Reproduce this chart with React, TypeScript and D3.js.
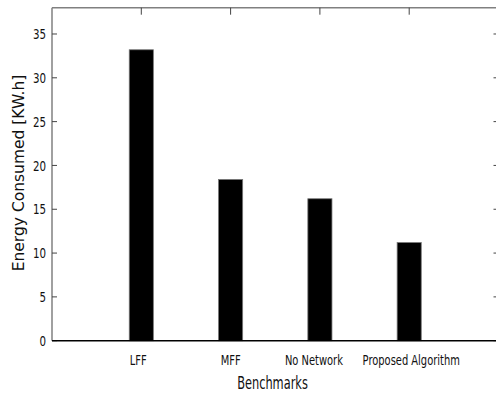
import React from "react";
import * as d3 from "d3";

const categories = ["LFF", "MFF", "No Network", "Proposed Algorithm"];
const energyValues = [33.2, 18.4, 16.2, 11.2];
const yTickValues = [0, 5, 10, 15, 20, 25, 30, 35];

// small horizontal nudges of the category labels, as in the reference
const labelNudge = [-3, 0, -6, 2];

const W = 496;
const H = 395;
const baseFont = "'DejaVu Sans', Verdana, sans-serif";

function NText({
  x,
  y,
  size,
  anchor,
  squeeze = 0.71,
  children,
}: {
  x: number;
  y: number;
  size: number;
  anchor: string;
  squeeze?: number;
  children: React.ReactNode;
}) {
  return (
    <text
      transform={`translate(${x},${y}) scale(${squeeze},1)`}
      textAnchor={anchor}
      fontFamily={baseFont}
      fontSize={size}
      fill="#111"
    >
      {children}
    </text>
  );
}

export default function App() {
  const x = d3.scaleLinear().domain([0, categories.length + 1]).range([52, 498.5]);
  const y = d3.scaleLinear().domain([0, 38]).range([340.7, 7.7]);
  const half = 0.135;
  const gray = "#808080";
  const left = x(0);
  const right = x(categories.length + 1);
  const top = y(38);
  const bottom = y(0);

  return (
    <svg
      width={W}
      height={H}
      style={{ position: "absolute", left: 0, top: 0, display: "block", background: "#fff" }}
    >
      {/* frame */}
      <line x1={left} x2={right} y1={top} y2={top} stroke={gray} strokeWidth={1.5} />
      <line x1={left} x2={left} y1={top} y2={bottom} stroke={gray} strokeWidth={1.5} />
      <line x1={right} x2={right} y1={top} y2={bottom} stroke={gray} strokeWidth={1.5} />

      {/* y ticks */}
      {yTickValues.map((t) => (
        <g key={"yt" + t}>
          <line x1={left} x2={left + 5} y1={y(t)} y2={y(t)} stroke="#444" strokeWidth={1} />
          <line x1={right - 5} x2={right} y1={y(t)} y2={y(t)} stroke="#444" strokeWidth={1} />
          <NText x={left - 6} y={y(t) + 5.2} size={14.5} anchor="end" squeeze={0.71}>
            {t}
          </NText>
        </g>
      ))}

      {/* top ticks */}
      {categories.map((c, i) => (
        <line
          key={"tt" + c}
          x1={x(i + 1)}
          x2={x(i + 1)}
          y1={top}
          y2={top + 7}
          stroke="#444"
          strokeWidth={1}
        />
      ))}

      {/* bars */}
      {categories.map((c, i) => (
        <rect
          key={"b" + c}
          x={x(i + 1 - half)}
          y={y(energyValues[i])}
          width={x(i + 1 + half) - x(i + 1 - half)}
          height={y(0) - y(energyValues[i])}
          fill="#000"
          stroke="#777"
          strokeWidth={0.8}
        />
      ))}

      {/* bottom axis */}
      <line x1={left} x2={right} y1={bottom} y2={bottom} stroke="#000" strokeWidth={1.5} />

      {/* category labels */}
      {categories.map((c, i) => (
        <NText
          key={"cl" + c}
          x={x(i + 1) + labelNudge[i]}
          y={364.5}
          size={14.8}
          anchor="middle"
          squeeze={0.67}
        >
          {c}
        </NText>
      ))}

      {/* axis titles */}
      <NText x={272.5} y={388.5} size={17} anchor="middle" squeeze={0.67}>
        Benchmarks
      </NText>
      <text
        transform={`translate(24, 173) rotate(-90)`}
        textAnchor="middle"
        fontFamily={baseFont}
        fontSize={15.5}
        fill="#111"
      >
        Energy Consumed [KW.h]
      </text>
    </svg>
  );
}
